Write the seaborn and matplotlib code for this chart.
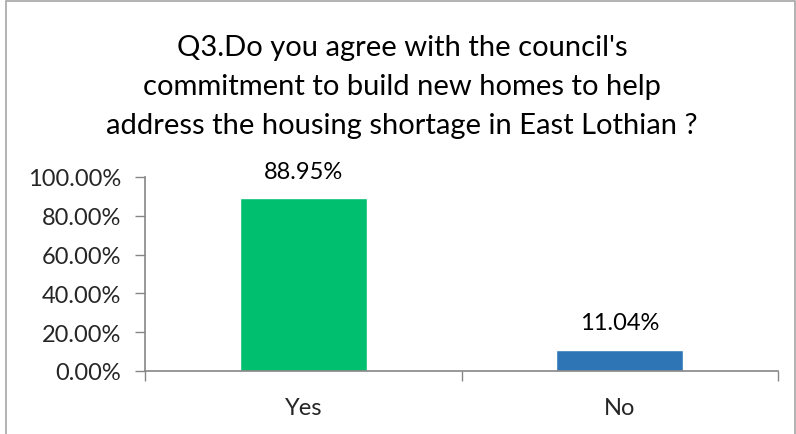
import matplotlib
matplotlib.use("Agg")
import matplotlib.pyplot as plt
import seaborn as sns
import pandas as pd
from matplotlib.patches import Rectangle
from matplotlib.ticker import FuncFormatter, FixedLocator

categories = ["Yes", "No"]
values = [88.95, 11.04]
bar_colors = ["#00BF6F", "#2E75B6"]
value_labels = ["88.95%", "11.04%"]
title = "Q3.Do you agree with the council's\ncommitment to build new homes to help\naddress the housing shortage in East Lothian ?"

sns.set_style("white")
plt.rcParams["font.family"] = ["Lato", "DejaVu Sans"]

df = pd.DataFrame({"answer": categories, "pct": values})

fig = plt.figure(figsize=(7.96, 4.35), dpi=100)
ax = fig.add_axes([145 / 796, 63 / 435, 633 / 796, 194 / 435])

sns.barplot(data=df, x="answer", y="pct", hue="answer", palette=bar_colors,
            width=0.4, legend=False, ax=ax, saturation=1)

axis_grey = "#868686"
ax.set_ylim(0, 100)
ax.set_xlim(-0.5, 1.5)
ax.yaxis.set_major_locator(FixedLocator([0, 20, 40, 60, 80, 100]))
ax.yaxis.set_major_formatter(FuncFormatter(lambda v, p: f"{v:.2f}%"))
ax.tick_params(axis="y", length=7, width=1, color=axis_grey, labelsize=17, pad=10, direction="out", left=True)
ax.xaxis.set_minor_locator(FixedLocator([-0.5, 0.5, 1.5]))
ax.tick_params(axis="x", which="major", length=0, labelsize=17, pad=19)
ax.tick_params(axis="x", which="minor", length=7, width=1, color=axis_grey, direction="out", bottom=True)
ax.set_xlabel("")
ax.set_ylabel("")

for side in ["top", "right"]:
    ax.spines[side].set_visible(False)
for side in ["left", "bottom"]:
    ax.spines[side].set_color(axis_grey)
    ax.spines[side].set_linewidth(1.2)

for i, (v, lab) in enumerate(zip(values, value_labels)):
    ax.annotate(lab, (i, v), xytext=(0, 12), textcoords="offset points",
                ha="center", va="bottom", fontsize=17, color="#000000")

fig.text(0.5 + 4 / 796, 1 - 87 / 435, title, ha="center", va="center",
         fontsize=21, linespacing=1.6, color="#000000")

# outer chart border (bottom edge falls outside the image)
fig.patches.append(Rectangle((6 / 796, -0.05), 1 - 7 / 796, 1.05 - 1.5 / 435,
                             transform=fig.transFigure, fill=False,
                             edgecolor="#A6A6A6", linewidth=1.2))

fig.savefig("out.png", dpi=100)
